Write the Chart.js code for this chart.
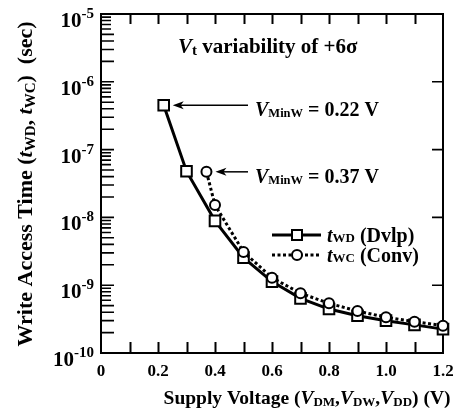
<!DOCTYPE html>
<html>
<head>
<meta charset="utf-8">
<script src="https://cdn.jsdelivr.net/npm/chart.js@4/dist/chart.umd.min.js"></script>
<style>
  html, body { margin: 0; padding: 0; background: #fff; }
  canvas { display: block; }
</style>
</head>
<body>
<canvas id="c" width="460" height="419"></canvas>
<script>
// Supply voltage (V) and write access time (s)
const voltsWD = [0.22, 0.3, 0.4, 0.5, 0.6, 0.7, 0.8, 0.9, 1.0, 1.1, 1.2];
const timeWD  = [4.5e-7, 4.8e-8, 8.9e-9, 2.55e-9, 1.13e-9, 6.4e-10, 4.45e-10, 3.55e-10, 3.0e-10, 2.6e-10, 2.25e-10];
const voltsWC = [0.37, 0.4, 0.5, 0.6, 0.7, 0.8, 0.9, 1.0, 1.1, 1.2];
const timeWC  = [4.7e-8, 1.52e-8, 3.1e-9, 1.29e-9, 7.6e-10, 5.4e-10, 4.15e-10, 3.37e-10, 2.9e-10, 2.53e-10];

// Axis ticks
const xTickValues = [0, 0.2, 0.4, 0.6, 0.8, 1.0, 1.2];
const xTickLabels = ['0', '0.2', '0.4', '0.6', '0.8', '1.0', '1.2'];
const xMinorStep = 0.1;
const yExponents = [-10, -9, -8, -7, -6, -5];

// Minimum write voltages marked with arrows
const minWVolts = [0.22, 0.37];
const minWLabels = ['0.22 V', '0.37 V'];

const FAM = '"Liberation Serif", "Times New Roman", serif';
const f = (size, italic) => (italic ? 'italic ' : '') + 'bold ' + size + 'px ' + FAM;

// Draw a run of text pieces: [text, font, dy]
function runWidth(ctx, runs) {
  let w = 0;
  for (const r of runs) { ctx.font = r[1]; w += ctx.measureText(r[0]).width; }
  return w;
}
function drawRuns(ctx, runs, x, y, align) {
  const w = runWidth(ctx, runs);
  let cx = align === 'center' ? x - w / 2 : align === 'right' ? x - w : x;
  ctx.textAlign = 'left';
  ctx.textBaseline = 'alphabetic';
  for (const r of runs) {
    ctx.font = r[1];
    ctx.fillText(r[0], cx, y + (r[2] || 0));
    cx += ctx.measureText(r[0]).width;
  }
}

const framePlugin = {
  id: 'frame',
  beforeDatasetsDraw(chart) {
    const { ctx, chartArea: a, scales } = chart;
    const xs = scales.x, ys = scales.y;
    ctx.save();
    ctx.strokeStyle = '#000';
    ctx.lineWidth = 2;
    ctx.strokeRect(a.left, a.top, a.right - a.left, a.bottom - a.top);
    ctx.beginPath();
    // x ticks, bottom and top, every 0.1
    for (let i = 1; i * xMinorStep < xs.max - 1e-9; i++) {
      const px = Math.round(xs.getPixelForValue(i * xMinorStep)) + 0.5;
      ctx.moveTo(px, a.bottom); ctx.lineTo(px, a.bottom - 11);
      ctx.moveTo(px, a.top); ctx.lineTo(px, a.top + 10);
    }
    ctx.stroke();
    ctx.lineWidth = 1.6;
    ctx.beginPath();
    // y ticks: decades on both sides, minor ticks on the left
    for (let k = 0; k < yExponents.length; k++) {
      const e = yExponents[k];
      const py = ys.getPixelForValue(Math.pow(10, e));
      if (k > 0 && k < yExponents.length - 1) {
        ctx.moveTo(a.left, py); ctx.lineTo(a.left + 13, py);
        ctx.moveTo(a.right, py); ctx.lineTo(a.right - 11, py);
      }
      if (k < yExponents.length - 1) {
        for (let m = 2; m <= 9; m++) {
          const my = ys.getPixelForValue(m * Math.pow(10, e));
          ctx.moveTo(a.left, my); ctx.lineTo(a.left + (m <= 5 ? 13 : 10), my);
        }
      }
    }
    ctx.stroke();
    ctx.restore();
  },
  afterDraw(chart) {
    const { ctx, chartArea: a, scales } = chart;
    const xs = scales.x, ys = scales.y;
    ctx.save();
    ctx.fillStyle = '#000';

    // x tick labels
    ctx.font = f(17);
    ctx.textAlign = 'center';
    ctx.textBaseline = 'alphabetic';
    xTickValues.forEach((v, i) => {
      ctx.fillText(xTickLabels[i], xs.getPixelForValue(v), a.bottom + 23);
    });

    // y tick labels 10^n
    yExponents.forEach(e => {
      const py = ys.getPixelForValue(Math.pow(10, e));
      drawRuns(ctx, [['10', f(21)], ['-' + Math.abs(e), f(15), -9]], a.left - 7, py + 13, 'right');
    });

    // x axis title
    drawRuns(ctx, [
      ['Supply Voltage (', f(19.5)], ['V', f(19.5, true)], ['DM', f(13), 2], [',', f(19.5)],
      ['V', f(19.5, true)], ['DW', f(13), 2], [',', f(19.5)],
      ['V', f(19.5, true)], ['DD', f(13), 2], [') (V)', f(19.5)]
    ], 307, 404, 'center');

    // y axis title
    ctx.save();
    ctx.translate(32, 184);
    ctx.rotate(-Math.PI / 2);
    drawRuns(ctx, [
      ['Write Access Time (', f(22)], ['t', f(22, true)], ['WD', f(15), 3], [', ', f(22)],
      ['t', f(22, true)], ['WC', f(15), 3], [')  (sec)', f(22)]
    ], 0, 0, 'center');
    ctx.restore();

    // heading inside the plot
    drawRuns(ctx, [['V', f(21, true)], ['t', f(15), 2], [' variability of +6\u03C3', f(21)]], 178, 53, 'left');

    // arrows to the minimum write voltage points
    const firsts = [[voltsWD[0], timeWD[0]], [voltsWC[0], timeWC[0]]];
    minWVolts.forEach((v, i) => {
      const px = xs.getPixelForValue(firsts[i][0]);
      const py = ys.getPixelForValue(firsts[i][1]);
      const tip = px + 9;
      ctx.strokeStyle = '#000';
      ctx.lineWidth = 1.5;
      ctx.beginPath();
      ctx.moveTo(248, py); ctx.lineTo(tip + 6, py);
      ctx.stroke();
      ctx.beginPath();
      ctx.moveTo(tip, py); ctx.lineTo(tip + 11, py - 4); ctx.lineTo(tip + 8, py); ctx.lineTo(tip + 11, py + 4);
      ctx.closePath();
      ctx.fill();
      drawRuns(ctx, [['V', f(20, true)], ['MinW', f(12.5), 1], [' = ' + minWLabels[i], f(20)]], 255, py + 11, 'left');
    });

    // legend
    const legendRows = [
      { y: 235, dash: [], style: 'rect', sub: 'WD', name: ' (Dvlp)' },
      { y: 255, dash: [3, 2.5], style: 'circle', sub: 'WC', name: ' (Conv)' }
    ];
    legendRows.forEach(r => {
      ctx.strokeStyle = '#000';
      ctx.lineWidth = 3;
      ctx.setLineDash(r.dash);
      ctx.beginPath();
      ctx.moveTo(272, r.y); ctx.lineTo(321, r.y);
      ctx.stroke();
      ctx.setLineDash([]);
      ctx.lineWidth = 2;
      ctx.fillStyle = '#fff';
      ctx.beginPath();
      if (r.style === 'rect') ctx.rect(292, r.y - 5, 10, 10);
      else ctx.arc(297, r.y, 5, 0, Math.PI * 2);
      ctx.fill(); ctx.stroke();
      ctx.fillStyle = '#000';
      drawRuns(ctx, [['t', f(20, true)], [r.sub, f(13), 0], [r.name, f(20)]], 327, r.y + 7, 'left');
    });
    ctx.restore();
  }
};

new Chart(document.getElementById('c'), {
  type: 'line',
  data: {
    datasets: [
      {
        label: 'tWD (Dvlp)',
        data: voltsWD.map((v, i) => ({ x: v, y: timeWD[i] })),
        borderColor: '#000', borderWidth: 3,
        pointStyle: 'rect', pointRadius: 7.5, pointBorderWidth: 2,
        pointBackgroundColor: '#fff', pointBorderColor: '#000',
        order: 1, clip: false, tension: 0
      },
      {
        label: 'tWC (Conv)',
        data: voltsWC.map((v, i) => ({ x: v, y: timeWC[i] })),
        borderColor: '#000', borderWidth: 3, borderDash: [3, 2.5],
        pointStyle: 'circle', pointRadius: 5, pointBorderWidth: 2,
        pointBackgroundColor: '#fff', pointBorderColor: '#000',
        order: 0, clip: false, tension: 0
      }
    ]
  },
  options: {
    responsive: false,
    animation: false,
    events: [],
    layout: { padding: { top: 14, right: 17, left: 0, bottom: 0 } },
    plugins: { legend: { display: false }, tooltip: { enabled: false } },
    scales: {
      x: {
        type: 'linear', min: 0, max: 1.2,
        ticks: { display: false }, grid: { display: false }, border: { display: false },
        afterFit: s => { s.height = 66; }
      },
      y: {
        type: 'logarithmic', min: 1e-10, max: 1e-5,
        ticks: { display: false }, grid: { display: false }, border: { display: false },
        afterFit: s => { s.width = 101; }
      }
    }
  },
  plugins: [framePlugin]
});
</script>
</body>
</html>
